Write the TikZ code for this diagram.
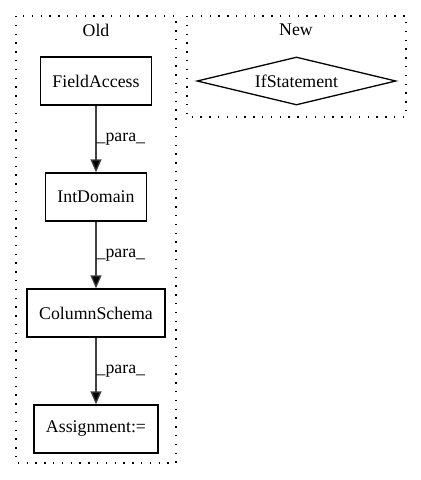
\documentclass[tikz,border=0pt]{standalone}
\usepackage{fontspec}
\setmainfont{Liberation Serif}
\usetikzlibrary{arrows.meta,shapes.geometric}

\begin{document}
\begin{tikzpicture}[x=1pt,y=-1pt,font=\fontsize{17.8}{21}\selectfont,
  box/.style={draw,line width=1.3pt,minimum height=48pt,inner xsep=12pt},
  cluster/.style={draw,line width=1.3pt,dash pattern=on 1.4pt off 7.4pt},
  flow/.style={draw=black!75,line width=1.3pt,-{Triangle[length=13pt,width=11pt,fill=black]}}]
  \useasboundingbox (0,0) rectangle (421,480);

  \draw[cluster] (16,16) rectangle (176,463);
  \draw[cluster] (187,16) rectangle (406,117);
  \node (old) at (96,30) {Old};
  \node (new) at (296,30) {New};

  \node[box] (field) at (96,81) {FieldAccess};
  \node[box] (intdom) at (96,197) {IntDomain};
  \node[box] (colschema) at (96,313) {ColumnSchema};
  \node[box] (assign) at (96,429) {Assignment:=};
  \node[draw,shape=diamond,line width=1.3pt,inner sep=0pt,aspect=4,minimum width=199pt,minimum height=48pt] (ifstmt) at (296.5,81) {IfStatement};

  \draw[flow] (field) -- (intdom) node[midway,anchor=west,inner sep=0pt] {\_para\_};
  \draw[flow] (intdom) -- (colschema) node[midway,anchor=west,inner sep=0pt] {\_para\_};
  \draw[flow] (colschema) -- (assign) node[midway,anchor=west,inner sep=0pt] {\_para\_};
\end{tikzpicture}
\end{document}
